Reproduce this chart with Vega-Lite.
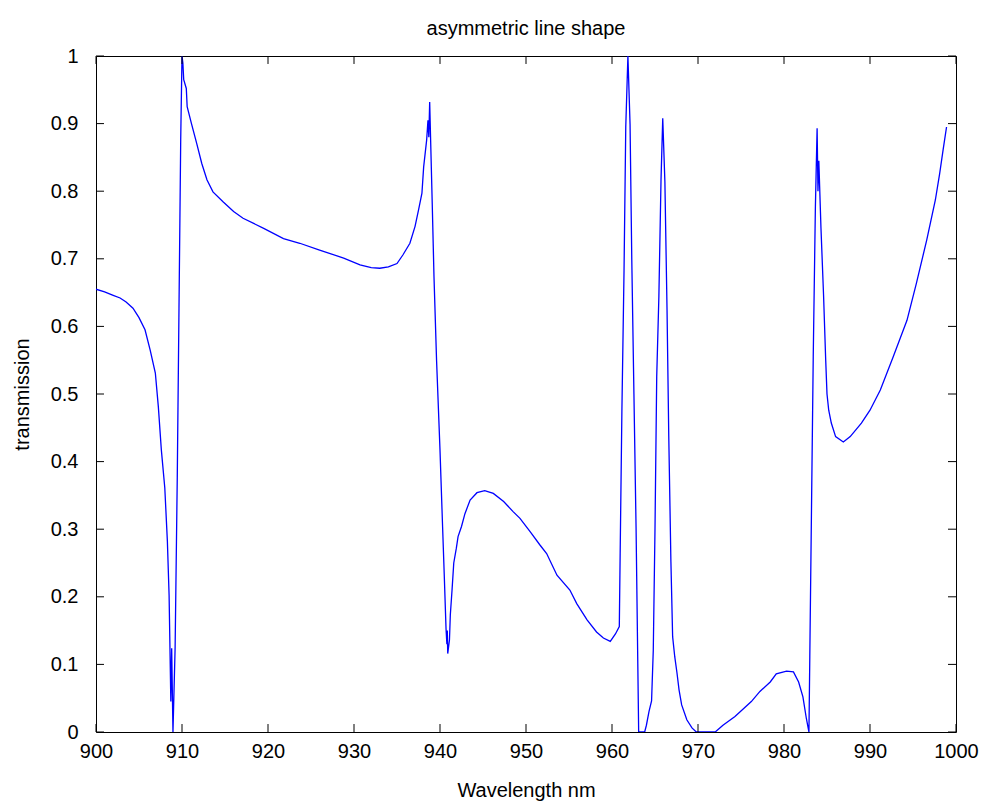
{
  "$schema": "https://vega.github.io/schema/vega-lite/v6.json",
  "autosize": {"type": "none"},
  "padding": {"left": 96, "top": 56, "right": 29, "bottom": 72},
  "width": 860,
  "height": 676,
  "background": "white",
  "title": {"text": "asymmetric line shape", "font": "Liberation Sans", "fontSize": 20, "fontWeight": "normal", "color": "black", "anchor": "middle", "frame": "group", "offset": 7},
  "config": {
    "view": {"stroke": "black", "strokeWidth": 1},
    "axis": {"grid": false, "ticks": false, "domain": false, "labelColor": "black", "titleColor": "black", "labelFont": "Liberation Sans", "titleFont": "Liberation Sans", "labelFontSize": 20, "titleFontSize": 20, "titleFontWeight": "normal"}
  },
  "datasets": {
    "curve": [
      {"wl": 900.0, "t": 0.655}, {"wl": 901.0, "t": 0.651}, {"wl": 902.0, "t": 0.646}, {"wl": 902.8, "t": 0.642},
      {"wl": 903.5, "t": 0.636}, {"wl": 904.3, "t": 0.627}, {"wl": 905.0, "t": 0.613}, {"wl": 905.7, "t": 0.595},
      {"wl": 906.3, "t": 0.565}, {"wl": 906.9, "t": 0.531}, {"wl": 907.25, "t": 0.481}, {"wl": 907.6, "t": 0.417},
      {"wl": 908.0, "t": 0.361}, {"wl": 908.3, "t": 0.282}, {"wl": 908.5, "t": 0.202}, {"wl": 908.6, "t": 0.124},
      {"wl": 908.7, "t": 0.045}, {"wl": 908.8, "t": 0.124}, {"wl": 908.95, "t": 0.0}, {"wl": 909.2, "t": 0.125},
      {"wl": 909.45, "t": 0.377}, {"wl": 909.65, "t": 0.627}, {"wl": 909.85, "t": 0.876}, {"wl": 910.0, "t": 1.0},
      {"wl": 910.1, "t": 0.99}, {"wl": 910.2, "t": 0.965}, {"wl": 910.5, "t": 0.952}, {"wl": 910.6, "t": 0.925},
      {"wl": 911.1, "t": 0.9}, {"wl": 911.7, "t": 0.871}, {"wl": 912.3, "t": 0.841}, {"wl": 912.9, "t": 0.817},
      {"wl": 913.6, "t": 0.799}, {"wl": 914.8, "t": 0.784}, {"wl": 916.0, "t": 0.77}, {"wl": 917.1, "t": 0.76},
      {"wl": 919.5, "t": 0.745}, {"wl": 921.8, "t": 0.73}, {"wl": 923.7, "t": 0.723}, {"wl": 926.0, "t": 0.713},
      {"wl": 928.8, "t": 0.701}, {"wl": 930.7, "t": 0.691}, {"wl": 932.0, "t": 0.687}, {"wl": 933.0, "t": 0.686},
      {"wl": 934.0, "t": 0.688}, {"wl": 935.0, "t": 0.693}, {"wl": 935.7, "t": 0.706}, {"wl": 936.5, "t": 0.723},
      {"wl": 937.1, "t": 0.748}, {"wl": 937.5, "t": 0.772}, {"wl": 937.9, "t": 0.797}, {"wl": 938.1, "t": 0.836},
      {"wl": 938.45, "t": 0.876}, {"wl": 938.6, "t": 0.905}, {"wl": 938.7, "t": 0.88}, {"wl": 938.8, "t": 0.932},
      {"wl": 938.9, "t": 0.881}, {"wl": 939.1, "t": 0.78}, {"wl": 939.3, "t": 0.674}, {"wl": 939.6, "t": 0.55},
      {"wl": 940.0, "t": 0.417}, {"wl": 940.3, "t": 0.304}, {"wl": 940.5, "t": 0.23}, {"wl": 940.7, "t": 0.153},
      {"wl": 940.8, "t": 0.13}, {"wl": 940.85, "t": 0.15}, {"wl": 940.9, "t": 0.116}, {"wl": 941.1, "t": 0.136},
      {"wl": 941.2, "t": 0.173}, {"wl": 941.4, "t": 0.21}, {"wl": 941.6, "t": 0.25}, {"wl": 941.9, "t": 0.272},
      {"wl": 942.1, "t": 0.289}, {"wl": 942.5, "t": 0.304}, {"wl": 942.9, "t": 0.323}, {"wl": 943.5, "t": 0.343},
      {"wl": 944.3, "t": 0.354}, {"wl": 945.2, "t": 0.357}, {"wl": 946.2, "t": 0.353}, {"wl": 947.4, "t": 0.341},
      {"wl": 948.5, "t": 0.326}, {"wl": 949.3, "t": 0.316}, {"wl": 950.5, "t": 0.296}, {"wl": 951.6, "t": 0.277},
      {"wl": 952.4, "t": 0.264}, {"wl": 953.6, "t": 0.232}, {"wl": 955.1, "t": 0.21}, {"wl": 955.9, "t": 0.19},
      {"wl": 957.1, "t": 0.166}, {"wl": 958.2, "t": 0.148}, {"wl": 959.0, "t": 0.139}, {"wl": 959.8, "t": 0.134},
      {"wl": 960.4, "t": 0.145}, {"wl": 960.85, "t": 0.156}, {"wl": 960.95, "t": 0.265}, {"wl": 961.15, "t": 0.474},
      {"wl": 961.4, "t": 0.683}, {"wl": 961.6, "t": 0.895}, {"wl": 961.85, "t": 1.0}, {"wl": 962.1, "t": 0.899},
      {"wl": 962.3, "t": 0.699}, {"wl": 962.55, "t": 0.5}, {"wl": 962.8, "t": 0.301}, {"wl": 963.0, "t": 0.101},
      {"wl": 963.1, "t": 0.0}, {"wl": 963.8, "t": 0.0}, {"wl": 964.0, "t": 0.01}, {"wl": 964.3, "t": 0.03},
      {"wl": 964.6, "t": 0.046}, {"wl": 964.8, "t": 0.121}, {"wl": 965.0, "t": 0.301}, {"wl": 965.2, "t": 0.526},
      {"wl": 965.45, "t": 0.644}, {"wl": 965.7, "t": 0.817}, {"wl": 965.9, "t": 0.908}, {"wl": 966.15, "t": 0.814},
      {"wl": 966.4, "t": 0.624}, {"wl": 966.6, "t": 0.438}, {"wl": 966.85, "t": 0.252}, {"wl": 967.05, "t": 0.141},
      {"wl": 967.3, "t": 0.111}, {"wl": 967.55, "t": 0.088}, {"wl": 967.8, "t": 0.062}, {"wl": 968.1, "t": 0.04},
      {"wl": 968.7, "t": 0.018}, {"wl": 969.3, "t": 0.006}, {"wl": 969.8, "t": 0.0}, {"wl": 972.0, "t": 0.0},
      {"wl": 972.9, "t": 0.01}, {"wl": 974.3, "t": 0.023}, {"wl": 976.2, "t": 0.045}, {"wl": 977.2, "t": 0.06},
      {"wl": 978.4, "t": 0.074}, {"wl": 979.1, "t": 0.086}, {"wl": 980.3, "t": 0.09}, {"wl": 981.1, "t": 0.089},
      {"wl": 981.7, "t": 0.074}, {"wl": 982.2, "t": 0.052}, {"wl": 982.6, "t": 0.02}, {"wl": 982.9, "t": 0.0},
      {"wl": 983.0, "t": 0.111}, {"wl": 983.2, "t": 0.333}, {"wl": 983.4, "t": 0.555}, {"wl": 983.65, "t": 0.777},
      {"wl": 983.85, "t": 0.893}, {"wl": 983.95, "t": 0.8}, {"wl": 984.05, "t": 0.845}, {"wl": 984.3, "t": 0.745},
      {"wl": 984.6, "t": 0.646}, {"wl": 984.85, "t": 0.55}, {"wl": 985.0, "t": 0.5}, {"wl": 985.2, "t": 0.476},
      {"wl": 985.5, "t": 0.457}, {"wl": 986.0, "t": 0.437}, {"wl": 986.9, "t": 0.429}, {"wl": 987.7, "t": 0.437},
      {"wl": 989.0, "t": 0.457}, {"wl": 990.0, "t": 0.476}, {"wl": 991.2, "t": 0.506}, {"wl": 992.7, "t": 0.555},
      {"wl": 994.3, "t": 0.609}, {"wl": 995.4, "t": 0.664}, {"wl": 996.6, "t": 0.728}, {"wl": 997.6, "t": 0.787},
      {"wl": 998.1, "t": 0.826}, {"wl": 998.5, "t": 0.861}, {"wl": 998.9, "t": 0.895}
    ],
    "xticks": [{"xt": 900}, {"xt": 910}, {"xt": 920}, {"xt": 930}, {"xt": 940}, {"xt": 950}, {"xt": 960}, {"xt": 970}, {"xt": 980}, {"xt": 990}, {"xt": 1000}],
    "yticks": [{"yt": 0}, {"yt": 0.1}, {"yt": 0.2}, {"yt": 0.3}, {"yt": 0.4}, {"yt": 0.5}, {"yt": 0.6}, {"yt": 0.7}, {"yt": 0.8}, {"yt": 0.9}, {"yt": 1}]
  },
  "layer": [
    {
      "data": {"name": "curve"},
      "mark": {"type": "line", "color": "#0000ff", "strokeWidth": 1.3, "clip": true},
      "encoding": {
        "x": {"field": "wl", "type": "quantitative", "title": "Wavelength nm", "scale": {"domain": [900, 1000], "nice": false, "zero": false},
              "axis": {"orient": "bottom", "values": [900, 910, 920, 930, 940, 950, 960, 970, 980, 990, 1000], "format": "d", "title": "Wavelength nm", "labelPadding": 9, "titlePadding": 19, "labelFlush": false}},
        "y": {"field": "t", "type": "quantitative", "title": "transmission", "scale": {"domain": [0, 1], "nice": false, "zero": false},
              "axis": {"orient": "left", "values": [0, 0.1, 0.2, 0.3, 0.4, 0.5, 0.6, 0.7, 0.8, 0.9, 1], "format": ".1~f", "title": "transmission", "labelPadding": 18, "titlePadding": 18, "labelFlush": false}}
      }
    },
    {
      "data": {"name": "xticks"},
      "mark": {"type": "rule", "color": "black", "strokeWidth": 1},
      "encoding": {
        "x": {"field": "xt", "type": "quantitative", "title": "Wavelength nm"},
        "y": {"datum": 0, "type": "quantitative", "title": "transmission"},
        "y2": {"datum": 0.0118}
      }
    },
    {
      "data": {"name": "xticks"},
      "mark": {"type": "rule", "color": "black", "strokeWidth": 1},
      "encoding": {
        "x": {"field": "xt", "type": "quantitative", "title": "Wavelength nm"},
        "y": {"datum": 1, "type": "quantitative", "title": "transmission"},
        "y2": {"datum": 0.9882}
      }
    },
    {
      "data": {"name": "yticks"},
      "mark": {"type": "rule", "color": "black", "strokeWidth": 1},
      "encoding": {
        "y": {"field": "yt", "type": "quantitative", "title": "transmission"},
        "x": {"datum": 900, "type": "quantitative", "title": "Wavelength nm"},
        "x2": {"datum": 900.93}
      }
    },
    {
      "data": {"name": "yticks"},
      "mark": {"type": "rule", "color": "black", "strokeWidth": 1},
      "encoding": {
        "y": {"field": "yt", "type": "quantitative", "title": "transmission"},
        "x": {"datum": 1000, "type": "quantitative", "title": "Wavelength nm"},
        "x2": {"datum": 999.07}
      }
    }
  ]
}
